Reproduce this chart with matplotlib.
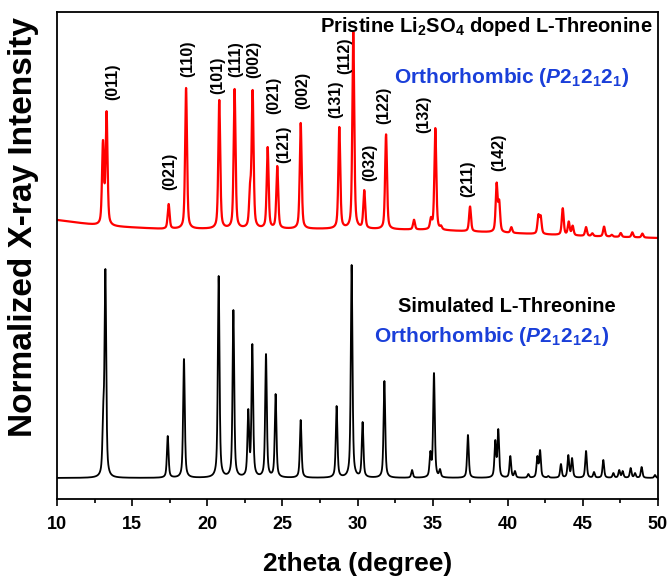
import numpy as np
import matplotlib
matplotlib.use("Agg")
import matplotlib.pyplot as plt

plt.rcParams['font.family'] = ['Liberation Sans', 'DejaVu Sans']
plt.rcParams['font.weight'] = 'bold'
plt.rcParams['mathtext.fontset'] = 'custom'
plt.rcParams['mathtext.rm'] = 'Liberation Sans:bold'
plt.rcParams['mathtext.bf'] = 'Liberation Sans:bold'
plt.rcParams['mathtext.it'] = 'Liberation Sans:bold:italic'

# ---------------- data ----------------
# Experimental (red) pattern: peak positions (2theta) and heights above baseline
red_pos = [13.06, 13.30, 17.43, 18.59, 20.80, 21.82, 22.85, 23.02, 24.02, 24.66,
           26.22, 28.79, 29.72, 30.45, 31.90, 33.76, 34.89, 35.18, 35.56, 37.49,
           39.26, 39.43, 40.24, 42.04, 42.19, 43.66, 44.06, 44.32, 45.21, 45.63,
           46.41, 46.92, 47.52, 48.29, 48.96]
red_hgt = [86, 115, 25, 141, 129, 140, 47, 139, 82, 63,
           106, 102, 197, 39, 95, 10, 13, 102, 5, 25,
           50, 33, 6, 20, 19, 27, 14, 10, 9, 3,
           10, 2, 4, 5, 4]
# baseline of the red pattern (2theta, level)
red_base_x = [10, 13, 17, 25, 30, 35, 40, 45, 50]
red_base_y = [279, 273, 270, 270, 270, 269, 266, 263, 261]

# Simulated (black) pattern
blk_pos = [13.08, 13.22, 17.37, 18.45, 20.76, 21.74, 22.73, 23.00, 23.91, 24.55,
           26.22, 28.61, 29.61, 30.34, 31.79, 33.63, 34.85, 35.09, 35.49, 37.35,
           39.17, 39.37, 40.17, 40.48, 41.37, 41.97, 42.15, 42.70, 43.54, 44.03,
           44.28, 45.21, 45.74, 46.36, 47.03, 47.42, 47.65, 48.18, 48.47, 48.91,
           49.80]
blk_hgt = [75, 209, 42, 119, 202, 168, 69, 134, 124, 84,
           58, 72, 213, 56, 97, 8, 27, 105, 9, 43,
           38, 49, 22, 7, 4, 22, 28, 2, 14, 23,
           20, 27, 6, 18, 5, 8, 7, 10, 5, 11,
           3]
blk_base = 21

# Miller index labels: (label, 2theta, bottom level)
hkl_labels = ['(011)', '(021)', '(110)', '(101)', '(111)', '(002)', '(021)', '(121)',
              '(002)', '(131)', '(112)', '(032)', '(122)', '(132)', '(211)', '(142)']
hkl_x = [13.68, 17.52, 18.70, 20.67, 21.90, 23.07, 24.40, 25.06,
         26.33, 28.55, 29.17, 30.83, 31.72, 34.43, 37.33, 39.42]
hkl_y = [399, 309, 422, 405, 422, 421, 385, 336,
         390, 381, 425, 318, 375, 366, 302, 328]

xticks = [10, 15, 20, 25, 30, 35, 40, 45, 50]


def profile(x, c, fwhm, eta):
    g = 0.5 * fwhm
    lor = g**2 / ((x - c)**2 + g**2)
    gau = np.exp(-np.log(2) * ((x - c) / g)**2)
    return eta * lor + (1 - eta) * gau


def pattern(x, pos, hgt, fwhm, eta):
    pos = np.asarray(pos, float)
    hgt = np.asarray(hgt, float)
    M = np.array([[profile(p, c, fwhm, eta) for c in pos] for p in pos])
    amp = np.clip(np.linalg.solve(M, hgt), 0, None)
    y = np.zeros_like(x)
    for c, a in zip(pos, amp):
        y += a * profile(x, c, fwhm, eta)
    return y


x = np.linspace(10, 50, 8001)
y_red = np.interp(x, red_base_x, red_base_y) + pattern(x, red_pos, red_hgt, 0.15, 0.5)
y_blk = blk_base + pattern(x, blk_pos, blk_hgt, 0.13, 0.6)

fig = plt.figure(figsize=(6.69, 5.77), dpi=100)
ax = fig.add_axes([57 / 669, 1 - 499 / 577, 601 / 669, 487 / 577])

ax.plot(x, y_red, color='#ff0000', lw=1.6)
ax.plot(x, y_blk, color='black', lw=1.3)

ax.set_xlim(10, 50)
ax.set_ylim(0, 487)
ax.set_xticks(xticks)
ax.set_xticks(np.arange(12.5, 50, 5), minor=True)
ax.set_yticks([])
ax.tick_params(axis='x', which='major', direction='out', length=5, width=1.2,
               labelsize=13, pad=7, top=False)
ax.tick_params(axis='x', which='minor', direction='out', length=3, width=1.2, top=False)
for lab in ax.get_xticklabels():
    lab.set_fontweight('bold')
for s in ax.spines.values():
    s.set_linewidth(1.3)

for t, hx, hy in zip(hkl_labels, hkl_x, hkl_y):
    ax.text(hx, hy, t, rotation=90, ha='center', va='bottom', fontsize=11.5,
            fontweight='bold', color='black')

blue = '#1a3fd9'
ax.text(0.715, 0.959, r'Pristine Li$_2$SO$_4$ doped L-Threonine', transform=ax.transAxes,
        ha='center', va='baseline', fontsize=14.5, fontweight='bold', color='black')
ax.text(0.756, 0.854, r'Orthorhombic ($\mathit{P}$2$_1$2$_1$2$_1$)', transform=ax.transAxes,
        ha='center', va='baseline', fontsize=15, fontweight='bold', color=blue)
ax.text(0.748, 0.385, 'Simulated L-Threonine', transform=ax.transAxes,
        ha='center', va='baseline', fontsize=14.5, fontweight='bold', color='black')
ax.text(0.723, 0.323, r'Orthorhombic ($\mathit{P}$2$_1$2$_1$2$_1$)', transform=ax.transAxes,
        ha='center', va='baseline', fontsize=15, fontweight='bold', color=blue)

fig.text(357.5 / 669, 1 - 571 / 577, '2theta (degree)', ha='center', va='baseline',
         fontsize=19, fontweight='bold')
fig.text(24 / 669, 1 - 227 / 577, 'Normalized X-ray Intensity', rotation=90,
         ha='center', va='center', fontsize=24, fontweight='bold')

fig.savefig('out.png', dpi=100)
